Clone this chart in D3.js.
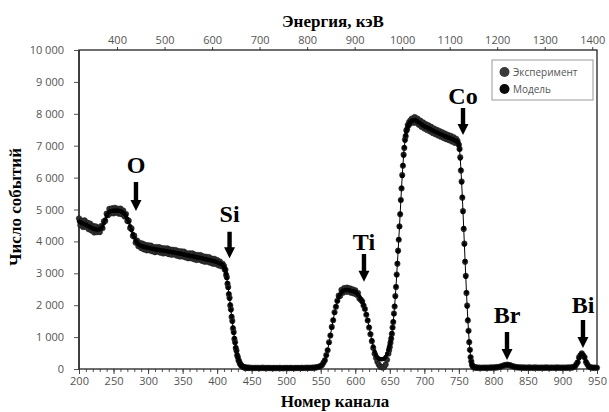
<!DOCTYPE html>
<html><head><meta charset="utf-8">
<script src="https://cdn.jsdelivr.net/npm/d3@7"></script>
<style>body{margin:0;background:#fff} svg{display:block}</style>
</head><body><svg id="chart" width="609" height="412"></svg>
<script>
// [channel, counts]
const experiment = [
[200,4720],[202,4510],[204,4650],[206,4450],[208,4660],[210,4460],[212,4590],[214,4380],[216,4560],[218,4340],
[220,4490],[222,4280],[224,4470],[226,4290],[228,4430],[230,4290],[232,4480],[234,4410],[236,4630],[238,4640],
[240,4870],[242,4820],[244,5020],[246,4880],[248,5040],[250,4880],[252,5055],[254,4900],[256,5025],[258,4870],
[260,5030],[262,4850],[264,4970],[266,4780],[268,4860],[270,4640],[272,4650],[274,4420],[276,4410],[278,4170],
[280,4180],[282,3960],[284,4030],[286,3850],[288,3960],[290,3790],[292,3930],[294,3750],[296,3890],[298,3720],
[300,3880],[302,3720],[304,3870],[306,3690],[308,3820],[310,3660],[312,3825],[314,3680],[316,3820],[318,3645],
[320,3790],[322,3620],[324,3785],[326,3630],[328,3780],[330,3600],[332,3745],[334,3580],[336,3740],[338,3590],
[340,3730],[342,3550],[344,3695],[346,3530],[348,3690],[350,3530],[352,3680],[354,3500],[356,3630],[358,3470],
[360,3630],[362,3470],[364,3625],[366,3445],[368,3585],[370,3415],[372,3575],[374,3430],[376,3570],[378,3390],
[380,3530],[382,3360],[384,3520],[386,3360],[388,3510],[390,3330],[392,3460],[394,3300],[396,3455],[398,3290],
[400,3415],[402,3250],[404,3370],[406,3220],[408,3300],
[410,3230],[411,3120],[412,3110],[413,2950],[414,2880],[415,2670],[416,2570],[417,2340],[418,2230],[419,1990],
[420,1870],[421,1630],[422,1510],[423,1270],[424,1160],[425,940],[426,840],[427,660],[428,580],[429,430],
[430,370],[431,270],[432,235],[433,165],[434,145],[435,100],[436,95],[437,70],[438,68],[439,50],
[440,52],[441,40],[442,44],[443,35],[444,40],[445,32],
[446,44],[448,30],[450,41],[452,26],[454,38],[456,29],[458,40],[460,24],[462,35],[464,28],
[466,42],[468,25],[470,36],[472,22],[474,39],[476,27],[478,33],[480,21],[482,37],[484,26],
[486,34],[488,23],[490,40],[492,28],[494,31],[496,20],[498,38],[500,27],[502,35],[504,24],
[506,39],[508,26],[510,33],[512,22],[514,37],[516,29],[518,34],[520,25],[522,41],[524,28],
[526,36],[528,30],[530,42],[532,31],[534,40],[536,35],[538,44],
[540,38],[542,50],[544,48],[546,66],[548,70],[550,98],[552,125],[554,200],[556,275],[558,435],
[560,590],[562,840],[564,1050],[566,1320],[568,1530],[570,1780],[572,1950],[574,2140],[576,2300],[578,2290],
[580,2480],[582,2390],[584,2540],[586,2420],[588,2550],[590,2420],[592,2530],[594,2390],[596,2500],[598,2370],
[600,2470],[602,2330],[604,2380],[606,2210],[608,2170],[610,2120],[612,1990],[614,1880],[616,1700],[618,1520],
[620,1300],[622,1090],[624,870],[626,660],[628,480],[630,350],[632,230],[634,140],[636,80],[638,55],
[640,50],[642,70],[644,140],[646,290],[648,480],
[649,590],[650,690],[651,820],[652,950],[653,1100],[654,1300],[655,1470],[656,1740],[657,1960],[658,2290],
[659,2570],[660,2960],[661,3300],[662,3710],[663,4050],[664,4470],[665,4850],[666,5300],[667,5660],[668,6080],
[669,6370],[670,6720],[671,6930],[672,7190],[673,7300],[674,7480],[675,7510],[676,7650],[677,7630],[678,7740],
[679,7690],[680,7800],[681,7740],
[682,7850],[684,7720],[686,7900],[688,7720],[690,7850],[692,7660],[694,7790],[696,7590],[698,7730],[700,7540],
[702,7680],[704,7490],[706,7640],[708,7450],[710,7590],[712,7400],[714,7540],[716,7360],[718,7500],[720,7320],
[722,7460],[724,7280],[726,7420],[728,7240],[730,7380],[732,7200],[734,7340],[736,7170],[738,7310],[740,7130],
[742,7270],[744,7090],[746,7220],
[747,7110],[748,7150],[749,7060],[750,7030],[751,6900],[752,6640],[753,6220],[754,5880],[755,5370],[756,4950],
[757,4390],[758,3930],[759,3360],[760,2920],[761,2380],[762,1990],[763,1520],[764,1200],[765,840],[766,600],
[767,370],[768,240],[769,130],[770,95],[771,60],[772,58],[773,45],[774,48],[775,40],
[776,50],[778,34],[780,46],[782,30],[784,44],[786,33],[788,48],[790,31],[792,45],[794,36],
[796,50],[798,38],[800,52],[802,40],[804,58],[806,50],[808,70],[810,66],[812,92],[814,96],
[816,124],[818,118],[820,140],[822,120],[824,122],[826,94],[828,90],[830,66],[832,68],[834,50],
[836,56],[838,42],[840,52],[842,36],[844,50],[846,34],[848,48],[850,38],[852,52],[854,35],
[856,47],[858,33],[860,50],[862,37],[864,46],[866,32],[868,49],[870,36],[872,45],[874,34],
[876,50],[878,37],[880,46],[882,33],[884,48],[886,38],[888,44],[890,32],[892,50],[894,36],
[896,47],[898,34],[900,49],[902,37],[904,45],[906,35],[908,50],[910,38],[912,52],[914,44],
[916,66],[918,74],[920,150],[922,210],[924,370],[926,430],[928,490],[930,420],[932,370],[934,220],
[936,150],[938,72],[940,62],[942,40],[944,48],[946,35],[948,45],[950,38]
];
const model = [
[200,4620],[202,4600],[204,4580],[206,4560],[208,4540],[210,4520],[212,4500],[214,4480],[216,4450],[218,4430],
[220,4410],[222,4390],[224,4380],[226,4370],[228,4370],[230,4380],[232,4410],[234,4470],[236,4570],[238,4690],
[240,4800],[242,4880],[244,4930],[246,4950],[248,4960],[250,4960],[252,4965],[254,4970],[256,4965],[258,4960],
[260,4950],[262,4930],[264,4900],[266,4860],[268,4800],[270,4710],[272,4600],[274,4480],[276,4350],[278,4230],
[280,4120],[282,4030],[284,3960],[286,3910],[288,3880],[290,3860],[292,3840],[294,3830],[296,3820],[298,3810],
[300,3800],[302,3790],[304,3780],[306,3770],[308,3760],[310,3750],[312,3745],[314,3740],[316,3730],[318,3725],
[320,3720],[322,3710],[324,3705],[326,3700],[328,3690],[330,3680],[332,3675],[334,3670],[336,3660],[338,3650],
[340,3640],[342,3630],[344,3625],[346,3620],[348,3610],[350,3600],[352,3590],[354,3580],[356,3570],[358,3560],
[360,3550],[362,3540],[364,3535],[366,3525],[368,3515],[370,3505],[372,3495],[374,3490],[376,3480],[378,3470],
[380,3460],[382,3450],[384,3440],[386,3430],[388,3420],[390,3410],[392,3400],[394,3390],[396,3375],[398,3360],
[400,3345],[402,3330],[404,3310],[406,3290],[408,3260],
[410,3200],[411,3150],[412,3080],[413,2980],[414,2850],[415,2700],[416,2540],[417,2370],[418,2200],[419,2020],
[420,1840],[421,1660],[422,1480],[423,1300],[424,1130],[425,970],[426,820],[427,680],[428,560],[429,450],
[430,360],[431,285],[432,225],[433,175],[434,140],[435,110],[436,90],[437,75],[438,65],[439,55],
[440,50],[441,45],[442,42],[443,40],[444,38],[445,36],
[446,36],[448,35],[450,35],[452,34],[454,34],[456,33],[458,33],[460,33],[462,32],[464,32],
[466,32],[468,32],[470,31],[472,31],[474,31],[476,31],[478,31],[480,31],[482,31],[484,31],
[486,31],[488,31],[490,31],[492,31],[494,31],[496,31],[498,31],[500,31],[502,31],[504,31],
[506,31],[508,31],[510,31],[512,32],[514,32],[516,32],[518,32],[520,33],[522,33],[524,33],
[526,34],[528,34],[530,35],[532,36],[534,37],[536,38],[538,39],
[540,40],[542,45],[544,52],[546,60],[548,72],[550,90],[552,130],[554,190],[556,280],[558,420],
[560,600],[562,820],[564,1060],[566,1300],[568,1540],[570,1760],[572,1960],[574,2120],[576,2250],[578,2340],
[580,2410],[582,2450],[584,2470],[586,2480],[588,2480],[590,2475],[592,2465],[594,2450],[596,2440],[598,2430],
[600,2420],[602,2380],[604,2330],[606,2270],[608,2190],[610,2110],[612,2010],[614,1880],[616,1720],[618,1530],
[620,1320],[622,1110],[624,900],[626,710],[628,550],[630,440],[632,370],[634,330],[636,310],[638,305],
[640,310],[642,330],[644,380],[646,470],[648,600],
[649,680],[650,760],[651,860],[652,980],[653,1120],[654,1290],[655,1490],[656,1720],[657,1980],[658,2270],
[659,2590],[660,2950],[661,3320],[662,3690],[663,4070],[664,4450],[665,4870],[666,5280],[667,5680],[668,6050],
[669,6390],[670,6690],[671,6950],[672,7160],[673,7320],[674,7440],[675,7530],[676,7600],[677,7650],[678,7690],
[679,7720],[680,7750],[681,7770],
[682,7780],[684,7800],[686,7810],[688,7790],[690,7760],[692,7730],[694,7700],[696,7670],[698,7640],[700,7610],
[702,7590],[704,7570],[706,7550],[708,7530],[710,7500],[712,7480],[714,7460],[716,7440],[718,7420],[720,7400],
[722,7380],[724,7360],[726,7340],[728,7320],[730,7300],[732,7280],[734,7260],[736,7250],[738,7230],[740,7210],
[742,7190],[744,7170],[746,7150],
[747,7140],[748,7120],[749,7090],[750,7010],[751,6880],[752,6600],[753,6250],[754,5850],[755,5400],[756,4920],
[757,4420],[758,3900],[759,3390],[760,2890],[761,2410],[762,1960],[763,1550],[764,1180],[765,860],[766,590],
[767,380],[768,230],[769,140],[770,90],[771,65],[772,55],[773,50],[774,45],[775,42],
[776,42],[778,41],[780,40],[782,40],[784,40],[786,40],[788,40],[790,41],[792,42],[794,42],
[796,43],[798,44],[800,45],[802,47],[804,50],[806,55],[808,62],[810,72],[812,85],[814,100],
[816,115],[818,126],[820,130],[822,126],[824,115],[826,100],[828,85],[830,72],[832,62],[834,55],
[836,50],[838,47],[840,45],[842,44],[844,43],[846,43],[848,43],[850,43],[852,43],[854,43],
[856,43],[858,43],[860,43],[862,43],[864,43],[866,43],[868,43],[870,43],[872,43],[874,43],
[876,43],[878,43],[880,43],[882,43],[884,43],[886,43],[888,43],[890,43],[892,43],[894,43],
[896,43],[898,43],[900,43],[902,43],[904,43],[906,43],[908,43],[910,44],[912,45],[914,48],
[916,58],[918,80],[920,130],[922,220],[924,340],[926,440],[928,480],[930,450],[932,360],[934,240],
[936,140],[938,80],[940,55],[942,45],[944,42],[946,40],[948,40],[950,40]
];
const channelTicks = [200,250,300,350,400,450,500,550,600,650,700,750,800,850,900,950];
const energyTicks = [400,500,600,700,800,900,1000,1100,1200,1300,1400];
const countTicks = [0,1000,2000,3000,4000,5000,6000,7000,8000,9000,10000];
const elementNames = ["O","Si","Ti","Co","Br","Bi"];
const elementChannels = [282.5,418,612.6,756,819.7,929.7];
const labelCounts = [6144,4618,3730,8307,1442,1755];
const arrowTopCounts = [5862,4304,3605,8182,1160,1536];
const arrowTipCounts = [4953,3470,2737,7335,282,658];
const legendLabels = ["Эксперимент","Модель"];
const titleTop = "Энергия, кэВ";
const titleBottom = "Номер канала";
const titleLeft = "Число событий";

const svg = d3.select("#chart");
const L = 79, R = 597, T = 50, B = 369;
const x = d3.scaleLinear().domain([200,950]).range([L,R]);
const xE = d3.scaleLinear().domain([320,1410]).range([L,R]);
const y = d3.scaleLinear().domain([0,10000]).range([B,T]);
const tickFont = "'Liberation Sans Narrow','Open Sans',sans-serif";
const serif = "'Liberation Serif','Times New Roman',serif";
const fmt = v => d3.format(",")(v).replace(/,/g, " ");

// minor ticks bottom
svg.append("g").attr("transform",`translate(0,${B})`)
  .call(d3.axisBottom(x).tickValues(d3.range(200,951,10)).tickSize(3).tickFormat(""))
  .call(g=>g.select(".domain").remove())
  .call(g=>g.selectAll("line").attr("stroke","#555"));
// bottom axis
svg.append("g").attr("transform",`translate(0,${B})`)
  .call(d3.axisBottom(x).tickValues(channelTicks).tickSize(5).tickPadding(3))
  .call(g=>g.select(".domain").remove())
  .call(g=>g.selectAll("line").attr("stroke","#444"))
  .call(g=>g.selectAll("text").attr("font-family",tickFont).attr("font-size",11).attr("fill","#555"));
// top axis
svg.append("g").attr("transform",`translate(0,${T})`)
  .call(d3.axisTop(xE).tickValues(energyTicks).tickSize(3).tickPadding(3).tickFormat(d3.format("d")))
  .call(g=>g.select(".domain").remove())
  .call(g=>g.selectAll("line").attr("stroke","#444"))
  .call(g=>g.selectAll("text").attr("font-family",tickFont).attr("font-size",11).attr("fill","#555"));
// left axis
svg.append("g").attr("transform",`translate(${L},0)`)
  .call(d3.axisLeft(y).tickValues(countTicks).tickSize(5).tickPadding(10).tickFormat(fmt))
  .call(g=>g.select(".domain").remove())
  .call(g=>g.selectAll("line").attr("stroke","#555"))
  .call(g=>g.selectAll("text").attr("font-family",tickFont).attr("font-size",11).attr("fill","#555"));

// frame
svg.append("rect").attr("x",L).attr("y",T).attr("width",R-L).attr("height",B-T)
  .attr("fill","none").attr("stroke","#222").attr("stroke-width",1.3);
svg.append("line").attr("x1",L).attr("x2",L).attr("y1",T).attr("y2",B)
  .attr("stroke","#333").attr("stroke-width",1.6);

// series
svg.append("g").selectAll("circle").data(experiment).join("circle")
  .attr("cx",d=>x(d[0])).attr("cy",d=>y(d[1])).attr("r",2.8)
  .attr("fill","#2e2e2e").attr("stroke","#111").attr("stroke-width",0.4);
const line = d3.line().x(d=>x(d[0])).y(d=>y(d[1]));
svg.append("path").datum(model).attr("d",line).attr("fill","none")
  .attr("stroke","#000").attr("stroke-width",1);
svg.append("g").selectAll("circle").data(model).join("circle")
  .attr("cx",d=>x(d[0])).attr("cy",d=>y(d[1])).attr("r",2.2).attr("fill","#000");

// element labels + arrows
const ann = svg.append("g");
elementNames.forEach((n,i)=>{
  const cx = x(elementChannels[i]);
  ann.append("text").attr("x",cx).attr("y",y(labelCounts[i])).attr("text-anchor","middle")
    .attr("font-family",serif).attr("font-weight","bold").attr("font-size",24).attr("fill","#000").text(n);
  const y0 = y(arrowTopCounts[i]), y1 = y(arrowTipCounts[i]);
  const hl = 11, sw = 2.2, hw = 5.5;
  ann.append("path").attr("fill","#000")
    .attr("d",`M${cx-sw},${y0}L${cx+sw},${y0}L${cx+sw},${y1-hl}L${cx+hw},${y1-hl}L${cx},${y1}L${cx-hw},${y1-hl}L${cx-sw},${y1-hl}Z`);
});

// legend
const lg = svg.append("g");
lg.append("rect").attr("x",492).attr("y",60).attr("width",101).attr("height",40)
  .attr("fill","#fff").attr("stroke","#999").attr("stroke-width",1);
const legendFill = ["#3a3a3a","#0a0a0a"];
legendLabels.forEach((t,i)=>{
  lg.append("circle").attr("cx",504.5).attr("cy",72+i*17).attr("r",5).attr("fill",legendFill[i]);
  lg.append("text").attr("x",513).attr("y",75.5+i*17).attr("font-family","'Open Sans',sans-serif")
    .attr("font-size",10).attr("fill","#555").text(t);
});

// titles
svg.append("text").attr("x",(L+R)/2-5).attr("y",27).attr("text-anchor","middle")
  .attr("font-family",serif).attr("font-weight","bold").attr("font-size",17).text(titleTop);
svg.append("text").attr("x",(L+R)/2-3).attr("y",407).attr("text-anchor","middle")
  .attr("font-family",serif).attr("font-weight","bold").attr("font-size",17).text(titleBottom);
svg.append("text").attr("transform","translate(21,207) rotate(-90)").attr("text-anchor","middle")
  .attr("font-family",serif).attr("font-weight","bold").attr("font-size",17).text(titleLeft);
</script></body></html>
